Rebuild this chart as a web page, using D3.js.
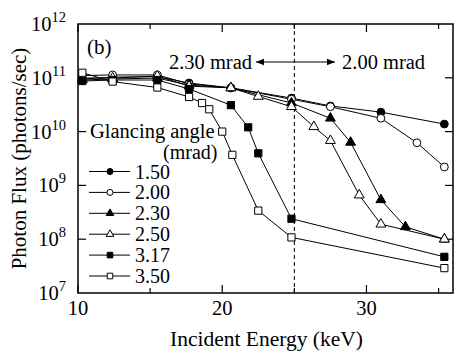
<!DOCTYPE html>
<html>
<head>
<meta charset="utf-8">
<script src="https://cdn.jsdelivr.net/npm/d3@7"></script>
<style>
  body { margin: 0; background: #fff; }
  svg { display: block; }
  svg text { font-family: 'Liberation Serif', 'Tinos', 'Times New Roman', 'DejaVu Serif', serif; }
</style>
</head>
<body>
<div id="chart"></div>
<script>
// Glancing angles (mrad) and their measured points
const angles = ['1.50', '2.00', '2.30', '2.50', '3.17', '3.50'];
const symbols = ['circle', 'circle', 'triangle', 'triangle', 'square', 'square'];
const filled = [true, false, true, false, true, false];

const energy150 = [10.3, 12.4, 15.5, 17.7, 20.6, 24.8, 27.5, 31.0, 35.4];
const flux150 = [9.5e10, 1.03e11, 1.05e11, 8.0e10, 6.5e10, 4.2e10, 3.0e10, 2.3e10, 1.38e10];

const energy200 = [10.3, 12.4, 15.5, 17.7, 20.6, 24.8, 27.5, 31.0, 33.5, 35.4];
const flux200 = [1.1e11, 1.13e11, 1.13e11, 7.7e10, 6.5e10, 4.0e10, 2.9e10, 1.77e10, 6.2e9, 2.2e9];

const energy230 = [10.3, 12.4, 15.5, 17.7, 20.6, 24.8, 27.5, 28.9, 31.0, 32.7, 35.4];
const flux230 = [9.1e10, 9.5e10, 9.9e10, 7.3e10, 6.5e10, 3.4e10, 1.77e10, 6.3e9, 5.4e8, 1.7e8, 1.0e8];

const energy250 = [10.3, 12.4, 15.5, 17.7, 20.6, 22.5, 24.8, 26.35, 27.5, 29.5, 31.0, 35.4];
const flux250 = [9.9e10, 9.9e10, 1.08e11, 7.0e10, 6.5e10, 4.5e10, 2.9e10, 1.23e10, 6.8e9, 6.6e8, 1.9e8, 1.0e8];

const energy317 = [10.3, 12.4, 15.5, 17.7, 20.6, 21.8, 22.5, 24.8, 35.4];
const flux317 = [8.7e10, 9.1e10, 9.1e10, 6.2e10, 3.1e10, 1.2e10, 3.95e9, 2.4e8, 4.7e7];

const energy350 = [10.3, 12.4, 15.5, 17.7, 18.6, 19.1, 20.0, 20.7, 22.5, 24.8, 35.4];
const flux350 = [1.24e11, 8.5e10, 6.6e10, 4.4e10, 3.4e10, 2.6e10, 1.0e10, 3.7e9, 3.4e8, 1.08e8, 2.9e7];

const energies = [energy150, energy200, energy230, energy250, energy317, energy350];
const fluxes = [flux150, flux200, flux230, flux250, flux317, flux350];

const xMajor = [10, 20, 30];
const xMinor = [15, 25, 35];
const yExponents = [7, 8, 9, 10, 11, 12];
const switchEnergy = 25;

const width = 454, height = 354;
const margin = { top: 24, right: 1, bottom: 61, left: 78 };

const svg = d3.select('#chart').append('svg')
    .attr('width', width)
    .attr('height', height)
    .attr('font-family', "'Liberation Serif', 'Times New Roman', serif");

const x = d3.scaleLinear().domain([10, 36]).range([margin.left, width - margin.right]);
const y = d3.scaleLog().domain([1e7, 1e12]).range([height - margin.bottom, margin.top]);

const x0 = x.range()[0], x1 = x.range()[1];
const y0 = y.range()[0], y1 = y.range()[1];

// Ticks (inward, all four sides)
const ticks = svg.append('g').attr('stroke', '#000').attr('stroke-width', 1.2);
xMajor.concat(xMinor).forEach(v => {
    const len = xMajor.includes(v) ? 8 : 5;
    ticks.append('line').attr('x1', x(v)).attr('x2', x(v)).attr('y1', y0).attr('y2', y0 - len);
    ticks.append('line').attr('x1', x(v)).attr('x2', x(v)).attr('y1', y1).attr('y2', y1 + len);
});
yExponents.slice(1, -1).forEach(e => {
    const v = Math.pow(10, e);
    ticks.append('line').attr('x1', x0).attr('x2', x0 + 8).attr('y1', y(v)).attr('y2', y(v));
    ticks.append('line').attr('x1', x1).attr('x2', x1 - 8).attr('y1', y(v)).attr('y2', y(v));
});

// Dashed switch line
svg.append('line')
    .attr('x1', x(switchEnergy)).attr('x2', x(switchEnergy))
    .attr('y1', y1).attr('y2', y0)
    .attr('stroke', '#000').attr('stroke-width', 1)
    .attr('stroke-dasharray', '4,3');

// Frame
svg.append('rect')
    .attr('x', x0).attr('y', y1)
    .attr('width', x1 - x0).attr('height', y0 - y1)
    .attr('fill', 'none').attr('stroke', '#000').attr('stroke-width', 1.5);

// Tick labels
svg.append('g').selectAll('text').data(xMajor).join('text')
    .attr('x', d => x(d)).attr('y', y0 + 22)
    .attr('text-anchor', 'middle').attr('font-size', 20.5)
    .text(d => d);

const yLab = svg.append('g').selectAll('text').data(yExponents).join('text')
    .attr('x', x0 - 12).attr('y', d => y(Math.pow(10, d)) + 7)
    .attr('text-anchor', 'end').attr('font-size', 20.5);
yLab.append('tspan').text('10');
yLab.append('tspan').attr('dy', -9).attr('font-size', 14.5).text(d => d);

// Axis titles
svg.append('text')
    .attr('x', (x0 + x1) / 2 + 1).attr('y', height - 8)
    .attr('text-anchor', 'middle').attr('font-size', 21.5)
    .text('Incident Energy (keV)');
svg.append('text')
    .attr('transform', `translate(26,${(y0 + y1) / 2}) rotate(-90)`)
    .attr('text-anchor', 'middle').attr('font-size', 21)
    .text('Photon Flux (photons/sec)');

// Panel label and angle annotation
svg.append('text').attr('x', x0 + 9).attr('y', y1 + 30).attr('font-size', 21).text('(b)');
svg.append('text').attr('x', 252).attr('y', 69).attr('text-anchor', 'end').attr('font-size', 20.5).text('2.30 mrad');
svg.append('text').attr('x', 342).attr('y', 69).attr('font-size', 20.5).text('2.00 mrad');

svg.append('defs').append('marker')
    .attr('id', 'arrowhead')
    .attr('viewBox', '0 -5 10 10')
    .attr('refX', 10).attr('refY', 0)
    .attr('orient', 'auto-start-reverse')
    .attr('markerWidth', 12).attr('markerHeight', 8)
    .attr('markerUnits', 'userSpaceOnUse')
    .append('path').attr('d', 'M0,-4L10,0L0,4Z').attr('fill', '#000');
svg.append('line')
    .attr('x1', 256).attr('x2', 335).attr('y1', 62).attr('y2', 62)
    .attr('stroke', '#000').attr('stroke-width', 1.2)
    .attr('marker-start', 'url(#arrowhead)')
    .attr('marker-end', 'url(#arrowhead)');

// Marker shapes
const symbolType = { circle: d3.symbolCircle, square: d3.symbolSquare, triangle: d3.symbolTriangle };
const symbolSize = { circle: 48, square: 52, triangle: 42 };
function drawMarker(g, kind, isFilled, scale) {
    g.append('path')
        .attr('d', d3.symbol().type(symbolType[kind]).size(symbolSize[kind] * scale)())
        .attr('fill', isFilled ? '#000' : '#fff')
        .attr('stroke', '#000').attr('stroke-width', 1);
}

// Series lines
const line = d3.line().x(d => x(d[0])).y(d => y(d[1]));
const plot = svg.append('g');
angles.forEach((a, i) => {
    const pts = d3.zip(energies[i], fluxes[i]);
    plot.append('path').datum(pts)
        .attr('d', line)
        .attr('fill', 'none').attr('stroke', '#000').attr('stroke-width', 1);
});
// Series markers on top
angles.forEach((a, i) => {
    const pts = d3.zip(energies[i], fluxes[i]);
    pts.forEach(p => {
        const g = plot.append('g').attr('transform', `translate(${x(p[0])},${y(p[1])})`);
        drawMarker(g, symbols[i], filled[i], 1);
    });
});

// Legend
const legend = svg.append('g');
legend.append('text').attr('x', 90).attr('y', 138).attr('font-size', 20.5).text('Glancing angle');
legend.append('text').attr('x', 163).attr('y', 159).attr('font-size', 20).text('(mrad)');
angles.forEach((a, i) => {
    const ly = 171.5 + i * 20.9;
    legend.append('line').attr('x1', 89).attr('x2', 130).attr('y1', ly).attr('y2', ly)
        .attr('stroke', '#000').attr('stroke-width', 1);
    const g = legend.append('g').attr('transform', `translate(110,${ly})`);
    drawMarker(g, symbols[i], filled[i], 0.6);
    legend.append('text').attr('x', 135).attr('y', ly + 7).attr('font-size', 20).text(a);
});
</script>
</body>
</html>
